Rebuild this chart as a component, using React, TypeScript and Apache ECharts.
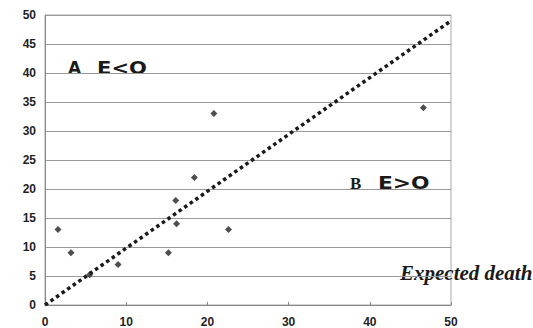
import React, { useEffect, useRef } from "react";
import * as echarts from "echarts";

const expected = [1.6, 3.2, 5.5, 9.0, 15.2, 16.2, 16.1, 22.6, 18.4, 20.8, 46.6];
const observed = [13, 9, 5.2, 7, 9, 14, 18, 13, 22, 33, 34];
const refLine = [
  [0, 0],
  [50, 49],
];
const xTicks = [0, 10, 20, 30, 40, 50];
const yTicks = [0, 5, 10, 15, 20, 25, 30, 35, 40, 45, 50];

export default function App() {
  const ref = useRef<HTMLDivElement>(null);
  useEffect(() => {
    document.body.style.margin = "0";
    const chart = echarts.init(ref.current!, null, { renderer: "svg" });
    const pts = expected.map((x, i) => [x, observed[i]]);
    const labelStyle = {
      color: "#1f1f1f",
      fontFamily: "Liberation Sans, Arial, sans-serif",
      fontSize: 12,
      fontWeight: "bold" as const,
    };
    const sans = {
      fill: "#1a1a1a",
      fontFamily: "DejaVu Sans",
      fontWeight: "bold" as const,
      fontSize: 17,
      verticalAlign: "middle" as const,
      align: "left" as const,
    };
    chart.setOption({
      animation: false,
      backgroundColor: "#fff",
      grid: {
        left: 45,
        right: 82,
        top: 15,
        bottom: 23,
        show: true,
        borderColor: "#a8a8a8",
        borderWidth: 1,
        backgroundColor: "transparent",
      },
      xAxis: {
        type: "value",
        min: xTicks[0],
        max: xTicks[xTicks.length - 1],
        interval: 10,
        axisLine: { show: true, lineStyle: { color: "#888", width: 1 } },
        axisTick: { show: true, inside: true, length: 3, lineStyle: { color: "#888" } },
        splitLine: { show: false },
        axisLabel: { ...labelStyle, margin: 11 },
      },
      yAxis: {
        type: "value",
        min: yTicks[0],
        max: yTicks[yTicks.length - 1],
        interval: 5,
        axisLine: { show: true, lineStyle: { color: "#888", width: 1 } },
        axisTick: { show: false },
        splitLine: { show: true, lineStyle: { color: "#999", width: 1 } },
        axisLabel: { ...labelStyle, margin: 9 },
      },
      series: [
        {
          type: "line",
          data: refLine,
          symbol: "none",
          lineStyle: { color: "#1a1a1a", width: 3.5, type: [3.5, 3.3] },
          z: 3,
        },
        {
          type: "scatter",
          data: pts,
          symbol: "diamond",
          symbolSize: 7,
          itemStyle: { color: "#222" },
          z: 4,
        },
      ],
      graphic: [
        { type: "text", x: 68, y: 68, style: { ...sans, text: "A" } },
        { type: "text", x: 97, y: 68, scaleX: 1.24, style: { ...sans, text: "E<O" } },
        {
          type: "text",
          x: 350,
          y: 183,
          style: {
            text: "B",
            fill: "#1a1a1a",
            fontFamily: "Liberation Serif",
            fontWeight: "bold",
            fontSize: 17,
            verticalAlign: "middle",
            align: "left",
          },
        },
        { type: "text", x: 378, y: 183, scaleX: 1.28, style: { ...sans, text: "E>O" } },
        {
          type: "text",
          x: 400,
          y: 273,
          style: {
            text: "Expected death",
            fill: "#1a1a1a",
            fontFamily: "Liberation Serif",
            fontStyle: "italic",
            fontWeight: "bold",
            fontSize: 21,
            verticalAlign: "middle",
            align: "left",
          },
        },
      ],
    });
    return () => chart.dispose();
  }, []);
  return <div ref={ref} style={{ width: 533, height: 328 }} />;
}
